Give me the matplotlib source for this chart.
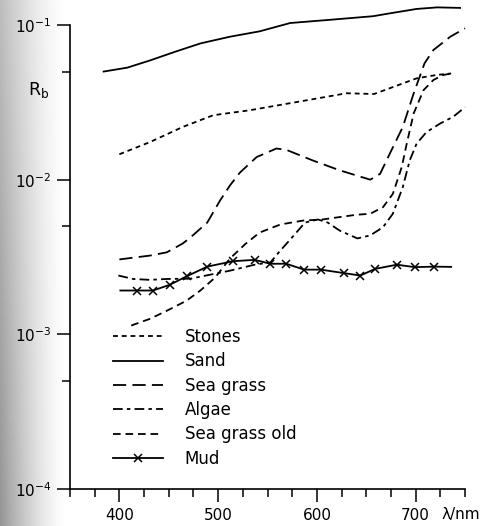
import numpy as np
import matplotlib.pyplot as plt
from matplotlib.ticker import FixedLocator, NullFormatter, MultipleLocator, LogFormatterSciNotation

plt.rcParams['font.family'] = 'DejaVu Sans'
plt.rcParams['mathtext.fontset'] = 'dejavusans'
plt.rcParams['lines.scale_dashes'] = False

# wavelength (nm) and bottom reflectance R_b
stones_nm = [400, 431, 464, 495, 532, 580, 630, 658, 687, 701, 721, 736]
stones = [0.0146, 0.0175, 0.0219, 0.0261, 0.0281, 0.0318, 0.0362, 0.0358,
          0.0419, 0.0452, 0.0475, 0.0486]

sand_nm = [384, 408, 431, 456, 482, 512, 542, 573, 613, 657, 674, 701, 722, 745]
sand = [0.050, 0.053, 0.059, 0.067, 0.076, 0.084, 0.091, 0.103, 0.108, 0.114,
        0.119, 0.127, 0.130, 0.129]

seagrass_nm = [400, 431, 448, 464, 472, 489, 502, 512, 522, 539, 559, 569, 596,
               623, 654, 664, 674, 687, 698, 709, 718, 735, 750]
seagrass = [0.00305, 0.00323, 0.00339, 0.00386, 0.00423, 0.00528, 0.00734,
            0.00918, 0.0111, 0.0140, 0.0159, 0.0156, 0.0133, 0.0115, 0.0100,
            0.0109, 0.0148, 0.0219, 0.0361, 0.0565, 0.0689, 0.0839, 0.0952]

algae_nm = [399, 414, 431, 448, 472, 512, 537, 553, 563, 573, 588, 601, 611,
            623, 641, 654, 667, 677, 687, 694, 701, 711, 725, 738, 750]
algae = [0.00240, 0.00228, 0.00225, 0.00228, 0.00229, 0.00258, 0.00282,
         0.00292, 0.00348, 0.00410, 0.00528, 0.00553, 0.00528, 0.00469,
         0.00417, 0.00436, 0.00493, 0.00603, 0.00895, 0.0133, 0.0171, 0.0203,
         0.0231, 0.0255, 0.0294]

seagrass_old_nm = [412, 431, 448, 468, 482, 497, 512, 527, 542, 563, 586, 606,
                   623, 640, 654, 667, 677, 686, 691, 698, 708, 718, 728, 736]
seagrass_old = [0.00114, 0.00126, 0.00142, 0.00165, 0.00192, 0.00233, 0.00309,
                0.00381, 0.00455, 0.00513, 0.00544, 0.00553, 0.00573, 0.00593,
                0.00602, 0.00664, 0.00811, 0.0121, 0.0171, 0.0268, 0.0379,
                0.0441, 0.0475, 0.0486]

# first and last entries are the bare line ends, the rest carry an x
mud_nm = [401, 418, 434, 451, 468, 489, 515, 537, 553, 569, 587, 604, 627, 644,
          659, 681, 699, 719, 736]
mud = [0.00192, 0.00192, 0.00192, 0.00209, 0.00237, 0.00274, 0.00297, 0.00303,
       0.00286, 0.00286, 0.00262, 0.00262, 0.00249, 0.00240, 0.00265, 0.00282,
       0.00272, 0.00274, 0.00273]

fig = plt.figure(figsize=(4.84, 5.26), dpi=100)

# grey shadow of the scanned page along the left edge, darker lower down
bg = fig.add_axes([0, 0, 0.14, 1], zorder=-5)
xx = np.linspace(0, 1, 200)
yy = np.linspace(0, 1, 100)[:, None]
shade = 1 - (0.42 - 0.16 * yy) * (1 - xx[None, :]) ** 1.5
bg.imshow(shade, cmap='gray', vmin=0, vmax=1, aspect='auto',
          extent=[0, 1, 0, 1], origin='lower')
bg.axis('off')

ax = fig.add_axes([70 / 484, 1 - 489 / 526, 395 / 484, 464 / 526])
ax.patch.set_alpha(0)

lw = 1.3
kw = dict(color='black', lw=lw, clip_on=False)
ax.plot(stones_nm, stones, dashes=(3.5, 2.8), label='Stones', **kw)
ax.plot(sand_nm, sand, ls='-', label='Sand', **kw)
ax.plot(seagrass_nm, seagrass, dashes=(9.5, 4.5), label='Sea grass', **kw)
ax.plot(algae_nm, algae, dashes=(7, 3, 2.5, 3), label='Algae', **kw)
ax.plot(seagrass_old_nm, seagrass_old, dashes=(5.5, 3.5), label='Sea grass old', **kw)
ax.plot(mud_nm, mud, marker='x', ms=6, mew=1.1, markevery=slice(1, -1),
        label='Mud', **kw)

ax.set_yscale('log')
ax.set_xlim(350, 750)
ax.set_ylim(1e-4, 1e-1)

ax.xaxis.set_major_locator(FixedLocator([400, 500, 600, 700]))
ax.xaxis.set_minor_locator(MultipleLocator(25))
ax.yaxis.set_major_locator(FixedLocator([1e-4, 1e-3, 1e-2, 1e-1]))
ax.yaxis.set_major_formatter(LogFormatterSciNotation())
ax.yaxis.set_minor_locator(FixedLocator([5e-4, 5e-3, 5e-2]))
ax.yaxis.set_minor_formatter(NullFormatter())

for s in ['top', 'right']:
    ax.spines[s].set_visible(False)
for s in ['left', 'bottom']:
    ax.spines[s].set_linewidth(1.2)

ax.tick_params(which='major', direction='out', length=9.5, width=1.1,
               labelsize=11, pad=4)
ax.tick_params(which='minor', direction='out', length=5.5, width=1.1)

ax.text(-0.08, 0.86, r'$\mathrm{R}_\mathrm{b}$', transform=ax.transAxes,
        fontsize=12.5, ha='center', va='center')
fig.text(441 / 484, 1 - 515 / 526, 'λ/nm', fontsize=11, ha='left', va='center')

ax.legend(loc='upper left', bbox_to_anchor=(113 / 484, 1 - 328 / 526),
          bbox_transform=fig.transFigure, frameon=False, fontsize=12,
          handlelength=3.0, handletextpad=1.3, labelspacing=0.38,
          borderpad=0, borderaxespad=0)

fig.savefig('out.png', dpi=100)
